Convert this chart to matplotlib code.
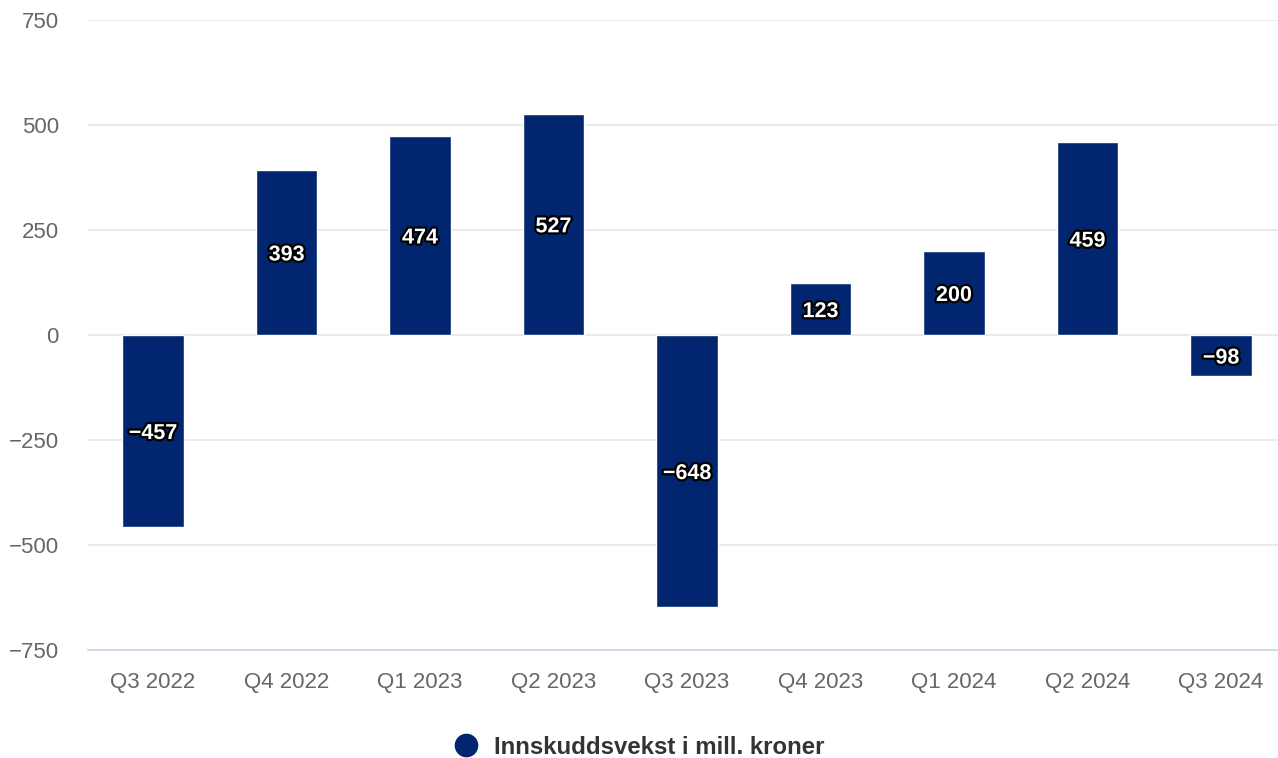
import matplotlib.pyplot as plt
import matplotlib.patheffects as pe
from matplotlib.lines import Line2D

plt.rcParams['font.family'] = ['Liberation Sans', 'DejaVu Sans']

# Quarterly deposit growth, million NOK
quarters = ['Q3 2022', 'Q4 2022', 'Q1 2023', 'Q2 2023', 'Q3 2023',
            'Q4 2023', 'Q1 2024', 'Q2 2024', 'Q3 2024']
growth = [-457, 393, 474, 527, -648, 123, 200, 459, -98]
y_ticks = [-750, -500, -250, 0, 250, 500, 750]
tick_labels = ['\u2212750', '\u2212500', '\u2212250', '0', '250', '500', '750']
series_name = 'Innskuddsvekst i mill. kroner'

bar_color = '#01266f'

fig = plt.figure(figsize=(12.78, 7.58), dpi=100)
ax = fig.add_axes([88 / 1278, 108 / 758, 1190 / 1278, 630 / 758])

x = range(len(quarters))
bars = ax.bar(x, growth, width=0.464, color=bar_color, edgecolor='white',
              linewidth=1, zorder=3)

for rect, val in zip(bars, growth):
    cy = rect.get_y() + rect.get_height() / 2
    txt = f'{val}'.replace('-', '\u2212')
    ax.text(rect.get_x() + rect.get_width() / 2, cy, txt, ha='center',
            va='center_baseline', color='white', fontsize=15.5,
            fontweight='bold', zorder=4,
            path_effects=[pe.withStroke(linewidth=3.2, foreground='black')])

ax.set_xlim(-0.487, len(quarters) - 0.573)
ax.set_ylim(-750, 750)
ax.set_yticks(y_ticks)
ax.set_yticklabels(tick_labels)
ax.set_xticks(list(x))
ax.set_xticklabels(quarters)
ax.tick_params(axis='both', length=0, labelsize=16, labelcolor='#666666')
ax.tick_params(axis='y', pad=21)
ax.tick_params(axis='x', pad=16)

ax.grid(axis='y', color='#e6e6e6', linewidth=1.2, zorder=0)
for side in ['top', 'right', 'left']:
    ax.spines[side].set_visible(False)
ax.spines['bottom'].set_color('#ccd6eb')
ax.spines['bottom'].set_linewidth(1.2)

handle = Line2D([], [], marker='o', linestyle='none', markersize=16,
                markerfacecolor=bar_color, markeredgecolor=bar_color)
leg = fig.legend([handle], [series_name], loc='center',
                 bbox_to_anchor=(633 / 1278, 1 - 747 / 758), frameon=False,
                 handletextpad=0.15, prop={'size': 17.3, 'weight': 'bold'})
for t in leg.get_texts():
    t.set_color('#333333')

fig.savefig('out.png', dpi=100)
